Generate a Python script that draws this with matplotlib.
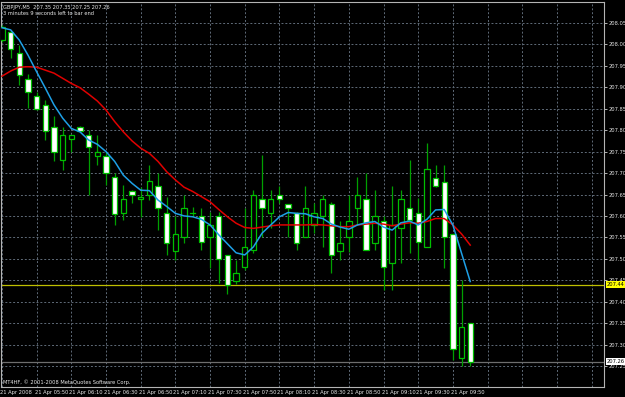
import matplotlib
matplotlib.use('Agg')
import matplotlib.pyplot as plt
import matplotlib.transforms as mtransforms
from matplotlib import font_manager

# GBPJPY M5 candles, 21 Apr 2008 05:30 .. 10:00
opens = [208.010, 208.028, 207.980, 207.919, 207.879, 207.859, 207.808, 207.730, 207.779, 207.808,
         207.789, 207.739, 207.739, 207.690, 207.608, 207.659, 207.640, 207.650, 207.670, 207.608,
         207.519, 207.550, 207.608, 207.600, 207.550, 207.599, 207.508, 207.449, 207.480, 207.520,
         207.639, 207.608, 207.649, 207.629, 207.608, 207.550, 207.579, 207.599, 207.629, 207.519,
         207.550, 207.618, 207.639, 207.538, 207.589, 207.490, 207.571, 207.618, 207.607, 207.528,
         207.689, 207.680, 207.559, 207.269, 207.350]
highs = [208.045, 208.034, 207.999, 207.930, 207.888, 207.870, 207.832, 207.808, 207.789, 207.810,
         207.800, 207.789, 207.750, 207.700, 207.672, 207.660, 207.668, 207.719, 207.699, 207.645,
         207.600, 207.649, 207.622, 207.618, 207.610, 207.610, 207.510, 207.497, 207.618, 207.660,
         207.742, 207.660, 207.670, 207.629, 207.610, 207.670, 207.630, 207.649, 207.632, 207.589,
         207.649, 207.690, 207.699, 207.660, 207.599, 207.670, 207.660, 207.730, 207.641, 207.769,
         207.719, 207.719, 207.559, 207.450, 207.350]
lows = [208.005, 207.969, 207.905, 207.851, 207.847, 207.777, 207.727, 207.707, 207.750, 207.797,
        207.649, 207.719, 207.672, 207.580, 207.590, 207.630, 207.598, 207.637, 207.567, 207.508,
        207.497, 207.538, 207.599, 207.520, 207.478, 207.444, 207.419, 207.441, 207.474, 207.513,
        207.551, 207.571, 207.631, 207.551, 207.520, 207.550, 207.560, 207.528, 207.466, 207.497,
        207.517, 207.579, 207.520, 207.520, 207.427, 207.428, 207.490, 207.513, 207.497, 207.528,
        207.668, 207.478, 207.264, 207.249, 207.250]
closes = [208.040, 207.989, 207.929, 207.888, 207.849, 207.799, 207.750, 207.789, 207.789, 207.799,
          207.760, 207.750, 207.699, 207.604, 207.639, 207.650, 207.645, 207.681, 207.619, 207.538,
          207.559, 207.618, 207.608, 207.539, 207.580, 207.500, 207.440, 207.468, 207.528, 207.650,
          207.619, 207.639, 207.639, 207.619, 207.538, 207.619, 207.608, 207.639, 207.509, 207.538,
          207.589, 207.649, 207.520, 207.599, 207.480, 207.578, 207.639, 207.590, 207.540, 207.709,
          207.670, 207.550, 207.290, 207.340, 207.260]

# moving averages as drawn on the chart
ma_fast = [208.039, 208.034, 208.010, 207.975, 207.936, 207.898, 207.859, 207.828, 207.804, 207.796,
           207.777, 207.767, 207.750, 207.727, 207.695, 207.676, 207.660, 207.659, 207.637, 207.622,
           207.606, 207.600, 207.598, 207.592, 207.579, 207.556, 207.535, 207.514, 207.509, 207.528,
           207.560, 207.579, 207.598, 207.608, 207.606, 207.605, 207.598, 207.594, 207.581, 207.574,
           207.569, 207.579, 207.584, 207.587, 207.574, 207.567, 207.584, 207.588, 207.579, 207.592,
           207.614, 207.615, 207.579, 207.513, 207.447]
ma_slow = [207.926, 207.938, 207.947, 207.948, 207.947, 207.940, 207.933, 207.921, 207.909, 207.899,
           207.884, 207.868, 207.847, 207.820, 207.796, 207.775, 207.758, 207.746, 207.727, 207.703,
           207.684, 207.667, 207.657, 207.645, 207.633, 207.615, 207.598, 207.583, 207.573, 207.571,
           207.574, 207.577, 207.579, 207.579, 207.579, 207.579, 207.580, 207.579, 207.577, 207.575,
           207.575, 207.579, 207.581, 207.583, 207.581, 207.577, 207.581, 207.584, 207.583, 207.587,
           207.594, 207.594, 207.579, 207.558, 207.532]

price_ticks = [207.25, 207.30, 207.35, 207.40, 207.45, 207.50, 207.55, 207.60, 207.65,
               207.70, 207.75, 207.80, 207.85, 207.90, 207.95, 208.00, 208.05]
time_labels = ['21 Apr 2008', '21 Apr 05:50', '21 Apr 06:10', '21 Apr 06:30', '21 Apr 06:50',
               '21 Apr 07:10', '21 Apr 07:30', '21 Apr 07:50', '21 Apr 08:10', '21 Apr 08:30',
               '21 Apr 08:50', '21 Apr 09:10', '21 Apr 09:30', '21 Apr 09:50']
level_line = 207.44
bid = 207.26

GREEN_WICK = '#00a000'
GREEN_EDGE = '#00c000'
GRID = '#5f6b78'
BORDER = '#b4b4b4'
TXT = '#e8e8e8'


def pick_font():
    # narrow face if there is one, the small MT4 font is rather condensed
    names = set(f.name for f in font_manager.fontManager.ttflist)
    for name, size in [('Liberation Sans Narrow', 4.5), ('DejaVu Sans Condensed', 4.2)]:
        if name in names:
            return name, size
    return 'DejaVu Sans', 3.7


def draw_candles(ax):
    for i in range(len(opens)):
        o, h, l, c = opens[i], highs[i], lows[i], closes[i]
        ax.plot([i, i], [l, h], color=GREEN_WICK, lw=0.9, zorder=3, solid_capstyle='butt')
        lo, hi = min(o, c), max(o, c)
        if hi - lo < 0.001:
            ax.plot([i - 0.3, i + 0.3], [o, o], color=GREEN_EDGE, lw=0.9, zorder=4)
            continue
        face = 'white' if c < o else 'black'
        ax.bar(i, hi - lo, bottom=lo, width=0.62, color=face,
               edgecolor=GREEN_EDGE, linewidth=0.9, zorder=4)


def main():
    font, FS = pick_font()
    plt.rcParams['font.family'] = [font, 'DejaVu Sans']
    fig = plt.figure(figsize=(6.25, 3.97), dpi=100, facecolor='black')
    ax = fig.add_axes([1 / 625, 10 / 397, 603 / 625, 385.3 / 397])
    ax.set_facecolor('black')

    n = len(opens)
    idx = list(range(n))
    ax.set_xlim(-0.115, 69.43)
    ax.set_ylim(207.201, 208.0997)

    # grid
    xt = list(range(0, 69, 4))
    ax.set_xticks(xt)
    ax.set_xticklabels(time_labels + [''] * (len(xt) - len(time_labels)),
                       fontsize=FS, color=TXT, ha='left')
    ax.set_yticks(price_ticks)
    ax.set_yticklabels(['%.2f' % p for p in price_ticks], fontsize=FS, color=TXT)
    ax.yaxis.tick_right()
    ax.tick_params(axis='y', length=2, width=0.7, color=BORDER, pad=1)
    ax.tick_params(axis='x', length=0, pad=2.5)
    for lab in ax.get_xticklabels():
        lab.set_transform(lab.get_transform() + mtransforms.ScaledTranslation(-2 / 100, 0, fig.dpi_scale_trans))
    ax.grid(True, color=GRID, linestyle=(0, (2, 2)), linewidth=0.7, zorder=0)
    ax.set_axisbelow(True)
    for s in ax.spines.values():
        s.set_color(BORDER)
        s.set_linewidth(0.8)

    # horizontal level + bid line
    ax.axhline(level_line, color='#bebe00', lw=0.9, zorder=2)
    ax.axhline(bid, color='#6e6e6e', lw=0.9, zorder=2)

    draw_candles(ax)

    ax.plot(idx, ma_slow, color='#e00000', lw=1.1, zorder=5)
    ax.plot(idx, ma_fast, color='#1ea0e6', lw=1.1, zorder=6)

    tr = mtransforms.blended_transform_factory(ax.transAxes, ax.transData)
    ax.text(1.004, level_line, '%.2f' % level_line, transform=tr, fontsize=FS, color='black',
            va='center', ha='left', clip_on=False, zorder=10,
            bbox=dict(facecolor='#ffff00', edgecolor='none', pad=0.5))
    ax.text(1.004, bid, '%.2f' % bid, transform=tr, fontsize=FS, color='black',
            va='center', ha='left', clip_on=False, zorder=10,
            bbox=dict(facecolor='white', edgecolor='none', pad=0.5))

    ax.text(0.004, 0.992, 'GBPJPY,M5  %.2f %.2f %.2f %.2f' % (opens[-1], highs[-1], lows[-1], closes[-1]),
            transform=ax.transAxes, fontsize=FS, color=TXT, va='top', ha='left')
    ax.text(0.004, 0.975, '3 minutes 9 seconds left to bar end',
            transform=ax.transAxes, fontsize=FS, color=TXT, va='top', ha='left')
    ax.text(0.004, 0.006, 'MT4HF, \u00a9 2001-2008 MetaQuotes Software Corp.',
            transform=ax.transAxes, fontsize=FS, color=TXT, va='bottom', ha='left')

    fig.savefig('out.png', dpi=100, facecolor='black')


if __name__ == '__main__':
    main()
